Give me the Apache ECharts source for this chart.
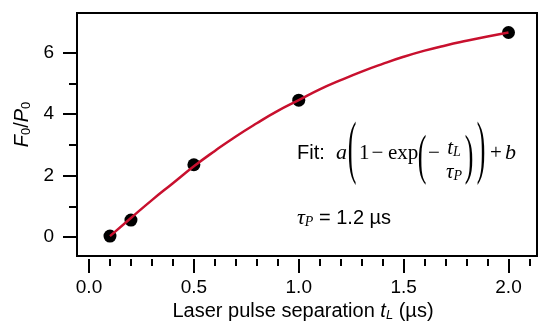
<!DOCTYPE html>
<html>
<head>
<meta charset="utf-8">
<script src="https://cdn.jsdelivr.net/npm/echarts@6/dist/echarts.min.js"></script>
<style>html,body{margin:0;padding:0;background:#fff}#c{width:540px;height:326px}</style>
</head>
<body>
<div id="c"></div>
<script>
// ---- data ----
const pointX = [0.1, 0.2, 0.5, 1.0, 2.0];
const pointY = [0.03, 0.55, 2.35, 4.45, 6.65];
const curveX = [0.1, 0.2, 0.3, 0.4, 0.5, 0.6, 0.7, 0.8, 0.9, 1.0, 1.1, 1.2, 1.3, 1.4, 1.5, 1.6, 1.7, 1.8, 1.9, 2.0];
const curveY = [0.03, 0.62, 1.20, 1.75, 2.30, 2.80, 3.27, 3.70, 4.10, 4.45, 4.80, 5.10, 5.38, 5.63, 5.86, 6.06, 6.23, 6.38, 6.52, 6.65];
const xTickLabels = ['0.0', '0.5', '1.0', '1.5', '2.0'];
const yTickLabels = ['0', '2', '4', '6'];

const SANS = '"Liberation Sans", Arial, Helvetica, sans-serif';
const SERIF = '"Liberation Serif", "Times New Roman", serif';

// pixel scale of the axes
const X0 = 89, PXX = 209.75;   // x=0 at 89px, px per unit
const Y0 = 237, PXY = 30.75;   // y=0 at 237px, px per unit
const BOX = {l: 77, t: 13, r: 537, b: 256};
const XTICK_Y = 259;           // detached x tick row
const YTICK_X = 76;            // detached y tick column

const chart = echarts.init(document.getElementById('c'), null, {renderer: 'canvas'});

function txt(text, x, y, st, align, extra) {
  return Object.assign({
    type: 'text', x: x, y: y, z: 10,
    style: Object.assign({
      text: text, fill: '#000',
      align: align || 'left', textAlign: align || 'left',
      verticalAlign: 'middle', textVerticalAlign: 'middle'
    }, st)
  }, extra || {});
}
function paren(ch, x, y, h) {
  const fs = 26;
  return txt(ch, x, y, {fontSize: fs, fontFamily: SERIF}, 'center', {scaleY: h / (fs * 0.86)});
}
const serif21 = {fontSize: 21, fontFamily: SERIF};
const serifIt = {fontSize: 22, fontFamily: SERIF, fontStyle: 'italic'};

const graphics = [
  txt('Fit:', 297, 153, {fontSize: 20, fontFamily: SANS}, 'left'),
  txt('a', 336, 153, serifIt, 'left'),
  paren('(', 352, 152, 60),
  txt('1', 359, 153, serif21, 'left'),
  txt('\u2212', 377.5, 153, serif21, 'center'),
  txt('exp', 388, 153, serif21, 'left'),
  paren('(', 422, 158.5, 47),
  txt('\u2212', 434, 153, serif21, 'center'),
  txt('{i|t}{s|L}', 454, 148, {
    rich: {
      i: {fontSize: 21, fontFamily: SERIF, fontStyle: 'italic', fill: '#000'},
      s: {fontSize: 14, fontFamily: SERIF, fontStyle: 'italic', fill: '#000', padding: [9, 0, 0, 0]}
    }
  }, 'center'),
  txt('{i|\u03c4}{s|P}', 454, 172, {
    rich: {
      i: {fontSize: 21, fontFamily: SERIF, fontStyle: 'italic', fill: '#000'},
      s: {fontSize: 14, fontFamily: SERIF, fontStyle: 'italic', fill: '#000', padding: [9, 0, 0, 0]}
    }
  }, 'center'),
  paren(')', 469, 158.5, 47),
  paren(')', 481, 152, 60),
  txt('+', 496, 153, serif21, 'center'),
  txt('b', 505, 153, serifIt, 'left'),
  txt('{i|\u03c4}{s|P}{n| = 1.2 \u00b5s}', 297, 218, {
    rich: {
      i: {fontSize: 22, fontFamily: SERIF, fontStyle: 'italic', fill: '#000'},
      s: {fontSize: 14, fontFamily: SERIF, fontStyle: 'italic', fill: '#000', padding: [9, 0, 0, 0]},
      n: {fontSize: 20, fontFamily: SANS, fill: '#000'}
    }
  }, 'left')
];

const tickLine = {color: '#000', width: 2};
const hidden = {show: false};

const option = {
  animation: false,
  backgroundColor: '#fff',
  textStyle: {fontFamily: SANS, color: '#000'},
  grid: [
    // plot box
    {left: BOX.l, top: BOX.t, width: BOX.r - BOX.l, height: BOX.b - BOX.t,
     containLabel: false, outerBoundsMode: 'none',
     show: true, borderColor: '#000', borderWidth: 2, backgroundColor: 'transparent'},
    // x tick row (0 .. 2.5, right part falls off canvas)
    {left: X0, top: XTICK_Y - 50, width: 2.5 * PXX, height: 50,
     containLabel: false, outerBoundsMode: 'none', show: false},
    // y tick column (0 .. 6)
    {left: YTICK_X, top: Y0 - 6 * PXY, width: 100, height: 6 * PXY,
     containLabel: false, outerBoundsMode: 'none', show: false}
  ],
  xAxis: [
    {gridIndex: 0, type: 'value',
     min: (BOX.l - X0) / PXX, max: (BOX.r - X0) / PXX,
     axisLine: hidden, axisTick: hidden, axisLabel: hidden, splitLine: hidden,
     name: 'Laser pulse separation {i|t}{s|L} (\u00b5s)',
     nameLocation: 'middle', nameGap: 44,
     nameTextStyle: {
       fontSize: 20, color: '#000', fontFamily: SANS, padding: [0, 8, 0, 0],
       rich: {
         i: {fontSize: 20, fontStyle: 'italic', fontFamily: SANS, color: '#000'},
         s: {fontSize: 13, fontStyle: 'italic', fontFamily: SANS, color: '#000', padding: [9, 0, 0, 0]}
       }
     }},
    {gridIndex: 1, type: 'value', position: 'bottom', min: 0, max: 2.5, interval: 0.5,
     axisLine: hidden,
     axisTick: {show: true, inside: false, length: 14, lineStyle: tickLine},
     minorTick: {show: true, splitNumber: 5, length: 7, lineStyle: tickLine},
     splitLine: hidden,
     axisLabel: {margin: 19, fontSize: 19, color: '#000', fontFamily: SANS,
       formatter: function (v) { const s = v.toFixed(1); return xTickLabels.indexOf(s) >= 0 ? s : ''; }}},
    {gridIndex: 2, type: 'value', min: 0, max: 1, show: false}
  ],
  yAxis: [
    {gridIndex: 0, type: 'value',
     min: -(BOX.b - Y0) / PXY, max: (Y0 - BOX.t) / PXY,
     axisLine: hidden, axisTick: hidden, axisLabel: hidden, splitLine: hidden,
     name: '{i|F}{s|0}{n|/}{i|P}{s|0}',
     nameLocation: 'middle', nameRotate: 90, nameGap: 44,
     nameTextStyle: {
       color: '#000', padding: [0, 0, 0, 20],
       rich: {
         i: {fontSize: 20, fontStyle: 'italic', fontFamily: SANS, color: '#000'},
         n: {fontSize: 20, fontFamily: SANS, color: '#000'},
         s: {fontSize: 13, fontFamily: SANS, color: '#000', padding: [9, 0, 0, 0]}
       }
     }},
    {gridIndex: 1, type: 'value', min: 0, max: 1, show: false},
    {gridIndex: 2, type: 'value', position: 'left', min: 0, max: 6, interval: 2,
     axisLine: hidden,
     axisTick: {show: true, inside: false, length: 13, lineStyle: tickLine},
     minorTick: {show: true, splitNumber: 2, length: 7, lineStyle: tickLine},
     splitLine: hidden,
     axisLabel: {margin: 22, fontSize: 19, color: '#000', fontFamily: SANS,
       formatter: function (v) { const s = String(v); return yTickLabels.indexOf(s) >= 0 ? s : ''; }}}
  ],
  series: [
    {type: 'scatter', xAxisIndex: 0, yAxisIndex: 0, z: 2,
     symbol: 'circle', symbolSize: 13,
     itemStyle: {color: '#000', opacity: 1},
     data: pointX.map((x, i) => [x, pointY[i]])},
    {type: 'line', xAxisIndex: 0, yAxisIndex: 0, z: 3,
     smooth: true, showSymbol: false, symbol: 'none',
     lineStyle: {color: '#c8102e', width: 2.5},
     data: curveX.map((x, i) => [x, curveY[i]])}
  ],
  graphic: graphics
};
chart.setOption(option);
</script>
</body>
</html>
